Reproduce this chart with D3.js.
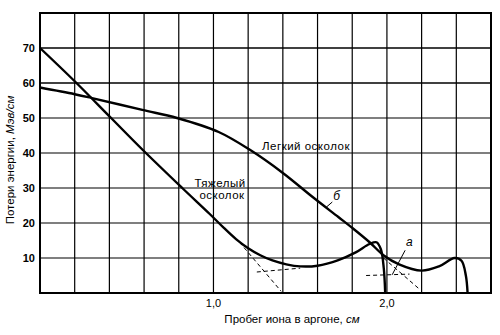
<!DOCTYPE html>
<html>
<head>
<meta charset="utf-8">
<script src="https://cdn.jsdelivr.net/npm/d3@7"></script>
<style>
  body { margin: 0; background: #fff; }
  text { font-family: "Liberation Sans", Arial, sans-serif; fill: #000; }
</style>
</head>
<body>
<svg id="chart" width="500" height="335"></svg>
<script>
'use strict';

// grid / tick values
var xGrid = [0, 0.2, 0.4, 0.6, 0.8, 1.0, 1.2, 1.4, 1.6, 1.8, 2.0, 2.2, 2.4, 2.6];
var yGrid = [0, 10, 20, 30, 40, 50, 60, 70, 80];
var yTickLabels = [10, 20, 30, 40, 50, 60, 70];
var xTickLabels = [{ v: 1.0, t: "1,0" }, { v: 2.0, t: "2,0" }];

// heavy fragment (x in cm, y in MeV/cm)
var heavyX = [0, 0.2, 0.41, 0.59, 0.82, 0.98, 1.06, 1.13, 1.20, 1.27, 1.34, 1.42, 1.50, 1.60, 1.72, 1.82, 1.90, 1.94, 1.965, 1.982, 1.99];
var heavyY = [70, 60.5, 50, 41, 30, 22.5, 18.6, 15.4, 12.8, 10.8, 9.3, 8.2, 7.6, 7.8, 9.4, 11.6, 14.0, 14.5, 12.5, 7, 0];

// light fragment
var lightX = [0, 0.2, 0.3, 0.59, 0.79, 1.03, 1.21, 1.40, 1.57, 1.72, 1.80, 1.90, 1.98, 2.07, 2.20, 2.30, 2.39, 2.43, 2.455, 2.465];
var lightY = [58.7, 56.8, 55.7, 52.3, 50, 46, 40.9, 34.3, 27.5, 21.7, 18.6, 14.5, 10.8, 8.2, 6.4, 7.6, 10, 9.2, 5, 0];

// dashed construction lines [x1, y1, x2, y2]
var dashed = [
  [1.15, 14.5, 1.39, 0.5],
  [1.25, 6.0, 1.50, 7.1],
  [1.98, 10.0, 2.19, 1.0],
  [1.88, 5.0, 2.13, 5.4]
];

var margin = { top: 13, right: 9, bottom: 42, left: 40 };
var width = 500 - margin.left - margin.right,
  height = 335 - margin.top - margin.bottom;

var svg = d3.select("#chart");
var x = d3.scaleLinear().domain([0, 2.6]).range([margin.left, margin.left + width]);
var y = d3.scaleLinear().domain([0, 80]).range([margin.top + height, margin.top]);

// grid
svg.append("g").selectAll("line").data(xGrid).enter().append("line")
  .attr("x1", function (d) { return x(d); }).attr("x2", function (d) { return x(d); })
  .attr("y1", y(0)).attr("y2", y(80))
  .attr("stroke", "#000").attr("stroke-width", 1.2);
svg.append("g").selectAll("line").data(yGrid).enter().append("line")
  .attr("x1", x(0)).attr("x2", x(2.6))
  .attr("y1", function (d) { return y(d); }).attr("y2", function (d) { return y(d); })
  .attr("stroke", "#000").attr("stroke-width", function (d) { return d >= 60 ? 1.6 : 1.2; });

// frame
svg.append("rect")
  .attr("x", x(0)).attr("y", y(80))
  .attr("width", x(2.6) - x(0)).attr("height", y(0) - y(80))
  .attr("fill", "none").attr("stroke", "#000").attr("stroke-width", 2);

// tick labels
svg.append("g").selectAll("text").data(yTickLabels).enter().append("text")
  .attr("x", 35).attr("y", function (d) { return y(d) + 4; })
  .attr("text-anchor", "end").attr("font-size", 11).attr("font-weight", "bold")
  .text(function (d) { return d; });
svg.append("g").selectAll("text").data(xTickLabels).enter().append("text")
  .attr("x", function (d) { return x(d.v); }).attr("y", 307)
  .attr("text-anchor", "middle").attr("font-size", 11)
  .text(function (d) { return d.t; });

// axis titles
var xt = svg.append("text").attr("x", 292).attr("y", 323)
  .attr("text-anchor", "middle").attr("font-size", 11.5);
xt.append("tspan").text("Пробег иона в аргоне, ");
xt.append("tspan").attr("font-style", "italic").text("см");

var yt = svg.append("text")
  .attr("transform", "translate(14,160) rotate(-90)")
  .attr("text-anchor", "middle").attr("font-size", 11.5);
yt.append("tspan").text("Потери энергии, ");
yt.append("tspan").attr("font-style", "italic").text("Мэв/см");

// curves
var line = d3.line()
  .x(function (d) { return x(d[0]); })
  .y(function (d) { return y(d[1]); })
  .curve(d3.curveCatmullRom.alpha(0.5));

svg.append("path").datum(d3.zip(heavyX, heavyY))
  .attr("d", line).attr("fill", "none").attr("stroke", "#000").attr("stroke-width", 2.4);
svg.append("path").datum(d3.zip(lightX, lightY))
  .attr("d", line).attr("fill", "none").attr("stroke", "#000").attr("stroke-width", 2.4);

svg.append("g").selectAll("line").data(dashed).enter().append("line")
  .attr("x1", function (d) { return x(d[0]); }).attr("y1", function (d) { return y(d[1]); })
  .attr("x2", function (d) { return x(d[2]); }).attr("y2", function (d) { return y(d[3]); })
  .attr("stroke", "#000").attr("stroke-width", 1).attr("stroke-dasharray", "4,3");

// curve labels
svg.append("text").attr("x", 262).attr("y", 150).attr("font-size", 11.5)
  .attr("letter-spacing", 0.5).text("Легкий осколок");
svg.append("text").attr("x", 220).attr("y", 187).attr("text-anchor", "middle")
  .attr("font-size", 11.5).attr("letter-spacing", 0.5).text("Тяжелый");
svg.append("text").attr("x", 222).attr("y", 199).attr("text-anchor", "middle")
  .attr("font-size", 11.5).attr("letter-spacing", 0.5).text("осколок");

// pointer labels б and а
svg.append("line").attr("x1", x(1.65)).attr("y1", y(24.5)).attr("x2", x(1.685)).attr("y2", y(26))
  .attr("stroke", "#000").attr("stroke-width", 1);
svg.append("text").attr("x", x(1.69)).attr("y", y(26.5)).attr("font-size", 12)
  .attr("font-style", "italic").text("б");
svg.append("line").attr("x1", x(2.105)).attr("y1", y(12.2)).attr("x2", x(2.03)).attr("y2", y(5.2))
  .attr("stroke", "#000").attr("stroke-width", 1);
svg.append("text").attr("x", x(2.11)).attr("y", y(13.5)).attr("font-size", 12)
  .attr("font-style", "italic").text("а");
</script>
</body>
</html>
